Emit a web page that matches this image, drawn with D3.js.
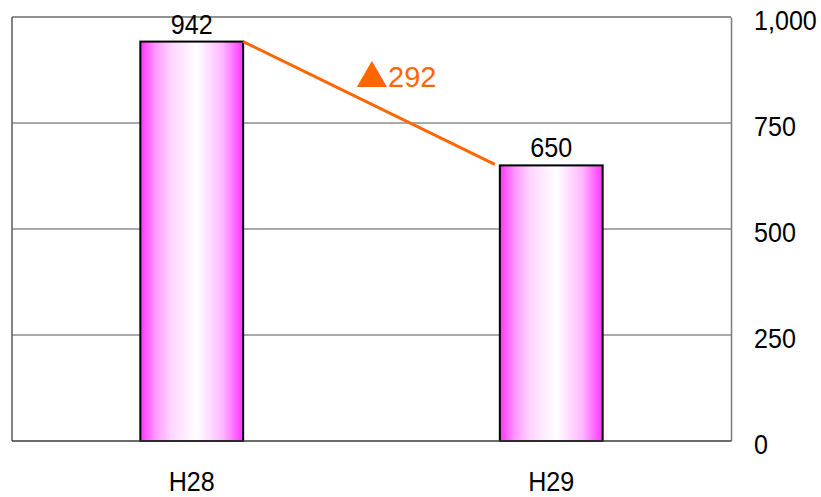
<!DOCTYPE html>
<html><head><meta charset="utf-8">
<script src="https://cdn.jsdelivr.net/npm/d3@7"></script>
<style>body{margin:0;background:#fff}svg{display:block}</style>
</head><body>
<svg id="c" width="821" height="497"></svg>
<script>
const categories = ["H28", "H29"];
const values = [942, 650];
const yTicks = [0, 250, 500, 750, 1000];
const diffMark = "▲";
const diffValue = "292";

const m = {left: 12, right: 731, top: 17, bottom: 441};
const FONT = "'Liberation Sans', Arial, sans-serif";
const SX = 0.93;
const svg = d3.select("#c");

const x = d3.scaleBand().domain(categories).range([m.left, m.right]).paddingInner(0.714).paddingOuter(0.357);
const y = d3.scaleLinear().domain([0, 1000]).range([m.bottom, m.top]);

const defs = svg.append("defs");
const g = defs.append("linearGradient").attr("id", "barGrad").attr("x1", "0%").attr("x2", "100%").attr("y1", "0%").attr("y2", "0%");
[[0, "#ff33ff"], [0.15, "#ff99ff"], [0.3, "#ffd6ff"], [0.55, "#ffffff"], [0.8, "#ffb8ff"], [1, "#ff33ff"]]
  .forEach(([o, c]) => g.append("stop").attr("offset", o).attr("stop-color", c));

// gridlines
svg.append("g").selectAll("line").data(yTicks.filter(t => t > 0 && t < 1000)).join("line")
  .attr("x1", m.left).attr("x2", m.right).attr("y1", d => y(d)).attr("y2", d => y(d))
  .attr("stroke", "#8c8c8c").attr("stroke-width", 1.5);
svg.append("line").attr("x1", m.left).attr("x2", m.right).attr("y1", y(1000)).attr("y2", y(1000)).attr("stroke", "#6e6e6e").attr("stroke-width", 1.5);
svg.append("line").attr("x1", m.left).attr("x2", m.left).attr("y1", y(1000)).attr("y2", y(0)).attr("stroke", "#5a5a5a").attr("stroke-width", 1.5);

// bars
svg.append("g").selectAll("rect").data(values).join("rect")
  .attr("x", (d, i) => x(categories[i])).attr("width", x.bandwidth())
  .attr("y", d => y(d)).attr("height", d => y(0) - y(d))
  .attr("fill", "url(#barGrad)").attr("stroke", "#000").attr("stroke-width", 2);

// right axis
const ax = svg.append("g").attr("transform", `translate(${m.right},0)`)
  .call(d3.axisRight(y).tickValues(yTicks).tickSize(0).tickPadding(23).tickFormat(d3.format(",")));
ax.select(".domain").attr("stroke", "#7a7a7a").attr("stroke-width", 1.5);
ax.selectAll("text").attr("font-family", FONT).attr("font-size", 27).attr("fill", "#000")
  .attr("x", null).attr("dy", "0.45em").attr("transform", `translate(23,0) scale(${SX},1)`);

svg.append("line").attr("x1", m.left).attr("x2", m.right).attr("y1", y(0)).attr("y2", y(0)).attr("stroke", "#3a3a3a").attr("stroke-width", 1.5);

// category labels
svg.append("g").selectAll("text").data(categories).join("text")
  .attr("transform", d => `translate(${x(d) + x.bandwidth() / 2},491) scale(${SX},1)`)
  .attr("text-anchor", "middle").attr("font-family", FONT).attr("font-size", 27).text(d => d);

// value labels
svg.append("g").selectAll("text").data(values).join("text")
  .attr("transform", d => `translate(${x(categories[values.indexOf(d)]) + x.bandwidth() / 2},${y(d) - 8}) scale(${SX},1)`)
  .attr("text-anchor", "middle").attr("font-family", FONT).attr("font-size", 27).text(d => d);

// connecting line
svg.append("line")
  .attr("x1", x(categories[0]) + x.bandwidth()).attr("y1", y(values[0]))
  .attr("x2", x(categories[1]) - 5).attr("y2", y(values[1]) - 1)
  .attr("stroke", "#ff6600").attr("stroke-width", 3);

const dt = svg.append("text").attr("x", 356).attr("y", 87).attr("fill", "#ff6600");
dt.append("tspan").attr("font-family", "'Noto Sans CJK JP', sans-serif").attr("font-size", 32).text(diffMark);
dt.append("tspan").attr("font-family", FONT).attr("font-size", 29).attr("dx", 0).text(diffValue);
</script>
</body></html>
